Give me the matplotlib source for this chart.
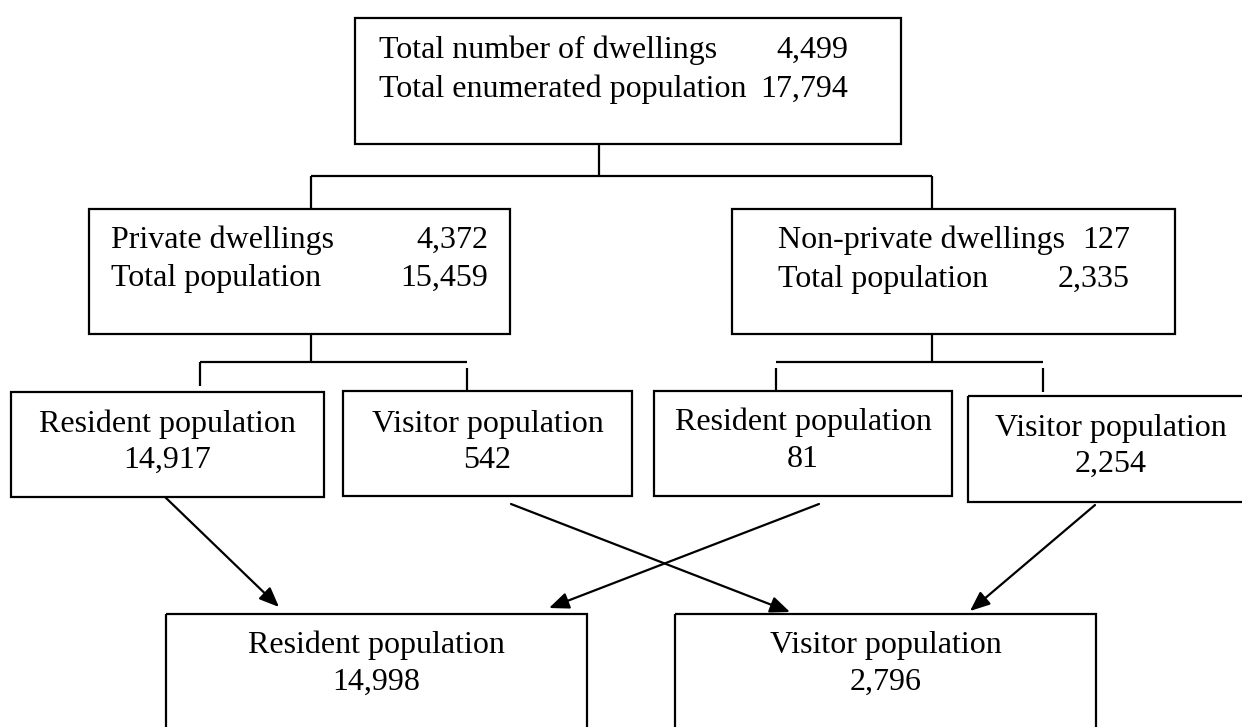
import matplotlib.pyplot as plt
from matplotlib.patches import Rectangle

# figures from the diagram
top_labels = ['Total number of dwellings', 'Total enumerated population']
top_values = [4499, 17794]
private_labels = ['Private dwellings', 'Total population']
private_values = [4372, 15459]
nonprivate_labels = ['Non-private dwellings', 'Total population']
nonprivate_values = [127, 2335]
split_labels = ['Resident population', 'Visitor population',
                'Resident population', 'Visitor population']
split_values = [14917, 542, 81, 2254]
final_labels = ['Resident population', 'Visitor population']
final_values = [14998, 2796]

W, H = 1242, 727
FS = 23
FONT = 'Liberation Serif'
LW = 1.6

fig = plt.figure(figsize=(W / 100, H / 100), dpi=100)
ax = fig.add_axes([0, 0, 1, 1])
ax.set_xlim(0, W)
ax.set_ylim(H, 0)
ax.axis('off')


def box(x0, y0, x1, y1):
    ax.add_patch(Rectangle((x0, y0), x1 - x0, y1 - y0, fill=False,
                           ec='black', lw=LW))


def line(xs, ys):
    ax.plot(xs, ys, color='black', lw=LW, solid_capstyle='butt')


def txt(x, y, s, ha='left'):
    ax.text(x, y, s, ha=ha, va='baseline', fontsize=FS, family=FONT)


def two_col(x_left, x_right, baselines, labels, values):
    for yb, lab, val in zip(baselines, labels, values):
        txt(x_left, yb, lab)
        txt(x_right, yb, f'{val:,}', ha='right')


# top box
box(355, 18, 901, 144)
two_col(379, 848, [58, 97], top_labels, top_values)

# connector to second level
line([599, 599], [144, 176])
line([311, 932], [176, 176])
line([311, 311], [176, 209])
line([932, 932], [176, 209])

# second level
box(89, 209, 510, 334)
two_col(111, 488, [248, 286], private_labels, private_values)
box(732, 209, 1175, 334)
two_col(778, 1130, [248, 287], nonprivate_labels, nonprivate_values)

# connectors to third level
line([311, 311], [334, 362])
line([200, 467], [362, 362])
line([200, 200], [362, 386])
line([467, 467], [368, 392])
line([932, 932], [334, 362])
line([776, 1043], [362, 362])
line([776, 776], [368, 391])
line([1043, 1043], [368, 392])

# third level
split_boxes = [(11, 392, 324, 497), (343, 391, 632, 496),
               (654, 391, 952, 496), (968, 396, 1260, 502)]
split_base = [(432, 468), (432, 468), (430, 467), (436, 472)]
for (x0, y0, x1, y1), (b1, b2), lab, val in zip(split_boxes, split_base,
                                                 split_labels, split_values):
    box(x0, y0, x1, y1)
    cx = (x0 + x1) / 2 if x1 < W else 1111
    txt(cx, b1, lab, ha='center')
    txt(cx, b2, f'{val:,}', ha='center')

# arrows
arrows = [((165, 497), (279, 607)), ((511, 504), (790, 612)),
          ((819, 504), (549, 608)), ((1095, 505), (970, 611))]
for start, end in arrows:
    ax.annotate('', xy=end, xytext=start,
                arrowprops=dict(arrowstyle='-|>,head_length=1.2,head_width=0.5',
                                color='black', lw=LW, shrinkA=0, shrinkB=0))

# bottom level
final_boxes = [(166, 614, 587, 760), (675, 614, 1096, 760)]
for (x0, y0, x1, y1), lab, val in zip(final_boxes, final_labels, final_values):
    box(x0, y0, x1, y1)
    cx = (x0 + x1) / 2
    txt(cx, 653, lab, ha='center')
    txt(cx, 690, f'{val:,}', ha='center')

fig.savefig('out.png', dpi=100)
